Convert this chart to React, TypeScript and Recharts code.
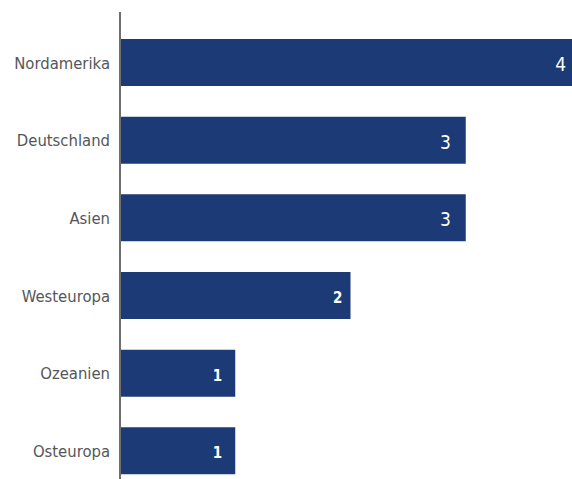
import React from "react";
import { BarChart, Bar, XAxis, YAxis, LabelList } from "recharts";

const regions = ["Nordamerika", "Deutschland", "Asien", "Westeuropa", "Ozeanien", "Osteuropa"];
const counts = [4, 3, 3, 2, 1, 1];

const data = regions.map((region, i) => ({ region, count: counts[i] }));

const BAR = "#1c3a75";
const TEXT = "#54565a";
const FONT = "'DejaVu Sans Condensed', 'Liberation Sans Narrow', 'Open Sans', sans-serif";

// value labels sit inside the bar end; the larger counts get a bigger font
function ValueLabel(props: any) {
  const { x, y, width, height, value } = props;
  const big = value >= 3;
  const size = big ? 19 : 15;
  const pad = big ? 15 : value === 2 ? 8 : 13;
  return (
    <text
      x={x + width - pad}
      y={y + height / 2 + 3}
      fill="#ffffff"
      fontSize={size}
      fontFamily={FONT}
      fontWeight={big ? 400 : 600}
      textAnchor="end"
      dominantBaseline="middle"
    >
      {value}
    </text>
  );
}

export default function App() {
  return (
    <div style={{ position: "absolute", left: 0, top: 0, width: 572, height: 479, overflow: "hidden" }}>
      <BarChart
        width={581}
        height={490}
        data={data}
        layout="vertical"
        margin={{ top: 12, right: 0, bottom: 0, left: 0 }}
      >
        <XAxis type="number" domain={[0, 4]} hide />
        <YAxis
          type="category"
          dataKey="region"
          width={120}
          padding={{ top: 12, bottom: 0 }}
          axisLine={{ stroke: "#6d6e70", strokeWidth: 2 }}
          tickLine={false}
          tickMargin={4}
          tick={{ fill: TEXT, fontSize: 16.5, fontFamily: FONT }}
        />
        <Bar dataKey="count" fill={BAR} barSize={47} isAnimationActive={false}>
          <LabelList dataKey="count" content={ValueLabel} />
        </Bar>
      </BarChart>
    </div>
  );
}
